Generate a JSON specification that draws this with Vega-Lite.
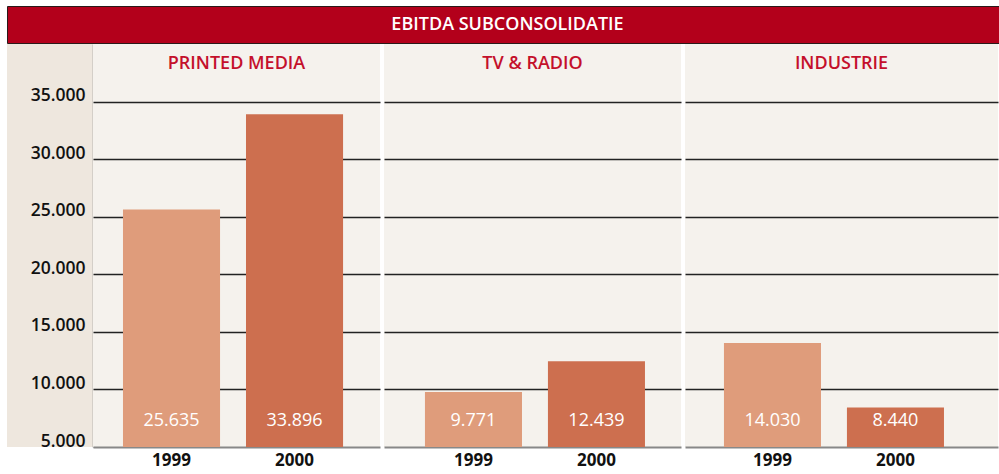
{
  "$schema": "https://vega.github.io/schema/vega-lite/v6.json",
  "padding": {"left": 6, "top": 5, "right": 0, "bottom": 4},
  "background": "white",
  "config": {
    "view": {"stroke": null},
    "font": "Open Sans",
    "locale": {"number": {"decimal": ",", "thousands": ".", "grouping": [3], "currency": ["€", ""]}}
  },
  "datasets": {
    "bars": [
      {"group": "PRINTED MEDIA", "year": "1999", "value": 25635},
      {"group": "PRINTED MEDIA", "year": "2000", "value": 33896},
      {"group": "TV & RADIO", "year": "1999", "value": 9771},
      {"group": "TV & RADIO", "year": "2000", "value": 12439},
      {"group": "INDUSTRIE", "year": "1999", "value": 14030},
      {"group": "INDUSTRIE", "year": "2000", "value": 8440}
    ],
    "ticks": [{"v": 5000}, {"v": 10000}, {"v": 15000}, {"v": 20000}, {"v": 25000}, {"v": 30000}, {"v": 35000}]
  },
  "vconcat": [
    {
      "width": 993,
      "height": 37,
      "view": {"fill": "#b3001b", "stroke": "#2a1a1a", "strokeWidth": 1},
      "data": {"values": [{"t": "EBITDA SUBCONSOLIDATIE"}]},
      "mark": {"type": "text", "color": "white", "fontSize": 18, "fontWeight": 600, "dx": 4, "baseline": "middle"},
      "encoding": {"text": {"field": "t"}}
    },
    {
      "spacing": 4,
      "hconcat": [
        {
          "spacing": 0,
          "hconcat": [
            {
              "width": 86,
              "height": 403,
              "view": {"fill": "#eee7de"},
              "data": {"name": "ticks"},
              "mark": {"type": "rule", "opacity": 0},
              "encoding": {
                "y": {
                  "field": "v", "type": "quantitative",
                  "scale": {"domain": [5000, 40000], "nice": false, "zero": false},
                  "axis": {
                    "orient": "right", "title": null, "ticks": false, "grid": false,
                    "values": [5000, 10000, 15000, 20000, 25000, 30000, 35000],
                    "format": ",d",
                    "domain": true, "domainColor": "#888", "domainWidth": 1.5,
                    "labelAlign": "right", "labelPadding": -8, "labelBaseline": "alphabetic",
                    "labelOffset": -1,
                    "labelFontSize": 17.5, "labelColor": "#111", "labelFontWeight": 600
                  }
                }
              }
            },
            {
              "width": 287,
              "height": 403,
              "view": {"fill": "#f5f2ed"},
              "layer": [
                {
                  "data": {"name": "bars"},
                  "transform": [{"filter": "datum.group == 'PRINTED MEDIA'"}],
                  "mark": {"type": "bar"},
                  "encoding": {
                    "x": {"field": "year", "type": "nominal",
                      "scale": {"paddingInner": 0.211, "paddingOuter": 0.272, "align": 0.448},
                      "axis": {"title": null, "labelAngle": 0, "ticks": false, "domainColor": "#888", "domainWidth": 2, "labelPadding": 5, "labelFontSize": 17, "labelFontWeight": "bold", "labelColor": "#111"}},
                    "y": {"field": "value", "type": "quantitative",
                      "scale": {"domain": [5000, 40000], "nice": false, "zero": false},
                      "axis": {"title": null, "labels": false, "ticks": false, "domain": false, "grid": true, "gridColor": "#222", "gridWidth": 1.3, "values": [10000, 15000, 20000, 25000, 30000, 35000]}},
                    "y2": {"datum": 5000},
                    "color": {"field": "year", "type": "nominal", "scale": {"domain": ["1999", "2000"], "range": ["#df9c7b", "#cd6f4f"]}, "legend": null}
                  }
                },
                {
                  "data": {"name": "bars"},
                  "transform": [{"filter": "datum.group == 'PRINTED MEDIA'"}],
                  "mark": {"type": "text", "color": "white", "fontSize": 18, "fontWeight": 500, "baseline": "middle"},
                  "encoding": {
                    "x": {"field": "year", "type": "nominal"},
                    "y": {"datum": 7300},
                    "text": {"field": "value", "type": "quantitative", "format": ",d"}
                  }
                },
                {
                  "data": {"values": [{"g": "PRINTED MEDIA"}]},
                  "mark": {"type": "text", "color": "#c4102b", "fontSize": 18, "fontWeight": 600, "baseline": "middle"},
                  "encoding": {"y": {"datum": 38250}, "text": {"field": "g"}}
                }
              ]
            }
          ]
        },
        {
          "width": 297,
          "height": 403,
          "view": {"fill": "#f5f2ed"},
          "layer": [
            {
              "data": {"name": "bars"},
              "transform": [{"filter": "datum.group == 'TV & RADIO'"}],
              "mark": {"type": "bar"},
              "encoding": {
                "x": {"field": "year", "type": "nominal",
                  "scale": {"paddingInner": 0.211, "paddingOuter": 0.313, "align": 0.532},
                  "axis": {"title": null, "labelAngle": 0, "ticks": false, "domainColor": "#888", "domainWidth": 2, "labelPadding": 5, "labelFontSize": 17, "labelFontWeight": "bold", "labelColor": "#111"}},
                "y": {"field": "value", "type": "quantitative",
                  "scale": {"domain": [5000, 40000], "nice": false, "zero": false},
                  "axis": {"title": null, "labels": false, "ticks": false, "domain": false, "grid": true, "gridColor": "#222", "gridWidth": 1.3, "values": [10000, 15000, 20000, 25000, 30000, 35000]}},
                "y2": {"datum": 5000},
                "color": {"field": "year", "type": "nominal", "scale": {"domain": ["1999", "2000"], "range": ["#df9c7b", "#cd6f4f"]}, "legend": null}
              }
            },
            {
              "data": {"name": "bars"},
              "transform": [{"filter": "datum.group == 'TV & RADIO'"}],
              "mark": {"type": "text", "color": "white", "fontSize": 18, "fontWeight": 500, "baseline": "middle"},
              "encoding": {
                "x": {"field": "year", "type": "nominal"},
                "y": {"datum": 7300},
                "text": {"field": "value", "type": "quantitative", "format": ",d"}
              }
            },
            {
              "data": {"values": [{"g": "TV & RADIO"}]},
              "mark": {"type": "text", "color": "#c4102b", "fontSize": 18, "fontWeight": 600, "baseline": "middle"},
              "encoding": {"y": {"datum": 38250}, "text": {"field": "g"}}
            }
          ]
        },
        {
          "width": 313,
          "height": 403,
          "view": {"fill": "#f5f2ed"},
          "layer": [
            {
              "data": {"name": "bars"},
              "transform": [{"filter": "datum.group == 'INDUSTRIE'"}],
              "mark": {"type": "bar"},
              "encoding": {
                "x": {"field": "year", "type": "nominal",
                  "scale": {"paddingInner": 0.211, "paddingOuter": 0.378, "align": 0.419},
                  "axis": {"title": null, "labelAngle": 0, "ticks": false, "domainColor": "#888", "domainWidth": 2, "labelPadding": 5, "labelFontSize": 17, "labelFontWeight": "bold", "labelColor": "#111"}},
                "y": {"field": "value", "type": "quantitative",
                  "scale": {"domain": [5000, 40000], "nice": false, "zero": false},
                  "axis": {"title": null, "labels": false, "ticks": false, "domain": false, "grid": true, "gridColor": "#222", "gridWidth": 1.3, "values": [10000, 15000, 20000, 25000, 30000, 35000]}},
                "y2": {"datum": 5000},
                "color": {"field": "year", "type": "nominal", "scale": {"domain": ["1999", "2000"], "range": ["#df9c7b", "#cd6f4f"]}, "legend": null}
              }
            },
            {
              "data": {"name": "bars"},
              "transform": [{"filter": "datum.group == 'INDUSTRIE'"}],
              "mark": {"type": "text", "color": "white", "fontSize": 18, "fontWeight": 500, "baseline": "middle"},
              "encoding": {
                "x": {"field": "year", "type": "nominal"},
                "y": {"datum": 7300},
                "text": {"field": "value", "type": "quantitative", "format": ",d"}
              }
            },
            {
              "data": {"values": [{"g": "INDUSTRIE"}]},
              "mark": {"type": "text", "color": "#c4102b", "fontSize": 18, "fontWeight": 600, "baseline": "middle"},
              "encoding": {"y": {"datum": 38250}, "text": {"field": "g"}}
            }
          ]
        }
      ]
    }
  ],
  "spacing": 0
}
